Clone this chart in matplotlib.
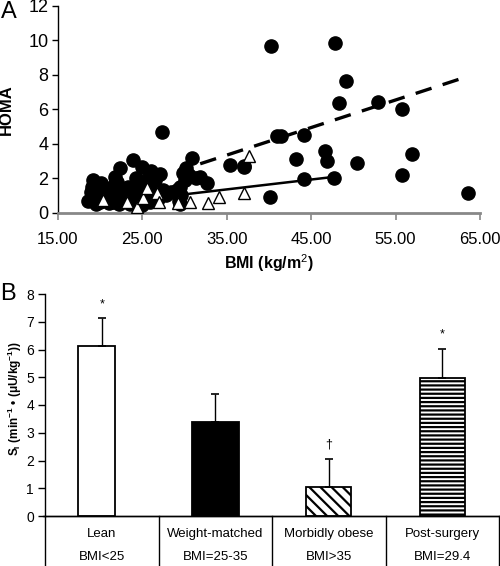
import numpy as np
import matplotlib
matplotlib.use("Agg")
import matplotlib.pyplot as plt

plt.rcParams['font.family'] = ['Liberation Sans', 'DejaVu Sans']
plt.rcParams['mathtext.fontset'] = 'custom'
plt.rcParams['mathtext.rm'] = 'Liberation Sans'
plt.rcParams['mathtext.bf'] = 'Liberation Sans:bold'
plt.rcParams['hatch.linewidth'] = 1.6

# ---------------- Panel A data ----------------
obese_bmi = [18.6, 18.9, 19.2, 19.0, 19.5, 19.8, 20.3, 20.0, 20.8, 21.2, 21.5, 21.8,
             22.3, 22.0, 22.5, 22.8, 23.3, 23.6, 23.9, 24.2, 24.6, 24.9, 25.0, 25.3, 24.8,
             25.8, 26.2, 26.5, 27.1, 27.4, 26.8, 27.37,
             29.2, 29.5, 29.8, 30.2, 30.9, 30.5, 31.8, 32.6, 29.3, 30.0, 29.1, 31.4,
             19.3, 20.5, 21.0, 21.8, 22.2, 23.0, 23.5, 24.0, 25.5, 25.9, 26.0, 27.8,
             28.4, 29.6, 29.4, 21.6, 20.1,
             35.4, 37.0, 37.06,
             40.23, 47.78, 49.08, 48.3, 52.88, 55.77, 40.94, 41.42, 44.1, 46.6, 46.87,
             43.23, 50.43, 56.95, 55.8, 44.2, 47.74, 40.15, 63.6]
obese_homa = [0.7, 1.2, 1.9, 1.5, 0.5, 1.0, 1.4, 0.6, 0.9, 1.3, 0.6, 2.1,
              2.6, 1.8, 1.2, 0.7, 1.5, 1.0, 3.05, 2.0, 1.3, 2.65, 0.45, 1.8, 0.9,
              2.1, 1.5, 1.9, 2.25, 1.3, 0.8, 4.67,
              1.1, 1.5, 2.3, 2.6, 3.15, 2.2, 2.05, 1.7, 0.7, 1.9, 1.3, 2.0,
              0.9, 1.1, 0.55, 1.0, 0.5, 1.1, 0.5, 1.5, 1.2, 0.6, 2.4, 1.0,
              1.2, 1.0, 0.5, 1.6, 1.7,
              2.75, 2.7, 2.64,
              9.70, 9.84, 7.63, 6.35, 6.43, 6.04, 4.45, 4.45, 4.53, 3.6, 3.0,
              3.1, 2.87, 3.39, 2.21, 1.97, 2.0, 0.91, 1.16]

lean_bmi = [20.37, 23.15, 24.33, 25.1, 25.52, 26.7, 27.02, 29.27, 30.66, 32.83, 34.02,
            37.0, 37.6]
lean_homa = [0.74, 0.64, 0.35, 0.84, 1.42, 1.13, 0.64, 0.55, 0.62, 0.55, 0.93,
             1.13, 3.3]

fit_dashed_x = [31.85, 63.6]
fit_dashed_y = [2.84, 7.92]
fit_solid_x = [25.0, 47.7]
fit_solid_y = [0.78, 2.08]

xticks_a = [15, 25, 35, 45, 55, 65]
yticks_a = [0, 2, 4, 6, 8, 10, 12]

# ---------------- Panel B data ----------------
groups = ['Lean', 'Weight-matched', 'Morbidly obese', 'Post-surgery']
bmi_labels = ['BMI<25', 'BMI=25-35', 'BMI>35', 'BMI=29.4']
si_mean = [6.13, 3.40, 1.06, 4.97]
si_se = [0.99, 1.00, 0.99, 1.04]
sig_marks = ['*', '', '\u2020', '*']

fig = plt.figure(figsize=(5.0, 5.66), dpi=100)

# ---------- Panel A ----------
axA = fig.add_axes([58/500, 1-212.7/566, (480-58)/500, (212.7-6)/566])
axA.plot(fit_dashed_x, fit_dashed_y, color='black', lw=2.4, dashes=(5, 3.5), zorder=2)
axA.plot(fit_solid_x, fit_solid_y, color='black', lw=1.8, zorder=2)
axA.plot(obese_bmi, obese_homa, 'o', ms=9.5, color='black', mec='black', zorder=3)
axA.plot(lean_bmi, lean_homa, '^', ms=8.5, mfc='white', mec='black', mew=1.0, zorder=4)
axA.set_xlim(15, 65)
axA.set_ylim(0, 12)
axA.set_xticks(xticks_a)
axA.set_xticklabels([f'{v:.2f}' for v in xticks_a], fontsize=12)
axA.set_yticks(yticks_a)
axA.set_yticklabels([str(v) for v in yticks_a], fontsize=13)
for s in ['top', 'right']:
    axA.spines[s].set_visible(False)
axA.spines['bottom'].set_color('#888888')
axA.spines['bottom'].set_linewidth(2)
axA.spines['left'].set_linewidth(1)
axA.tick_params(axis='x', direction='out', length=5, width=1.2, color='#888888', pad=9)
axA.tick_params(axis='y', direction='out', length=4, width=1, pad=3)
axA.set_ylabel('HOMA', fontsize=12, fontweight='bold')
axA.set_xlabel('BMI (kg/m$^2$)', fontsize=11.5, fontweight='bold')
axA.xaxis.set_label_coords(0.5, -0.245)
axA.yaxis.set_label_coords(-0.105, 0.5)
fig.text(0.002, 1-12/566, 'A', fontsize=17, va='center', ha='left')
# xlabel center at ~263 px
axA.xaxis.set_label_coords(0.5, -(263-212.7)/(212.7-6))
axA.xaxis.label.set_va('center')

# ---------- Panel B ----------
axB = fig.add_axes([45/500, 1-516/566, (499-45)/500, (516-294)/566])
x = np.arange(len(groups))
bar_shift = np.array([-0.045, 0, 0, 0])
bar_w = [0.323, 0.41, 0.40, 0.40]
faces = ['white', 'black', 'white', 'white']
hatches = [None, None, '\\\\\\', '----']
bars = axB.bar(x + bar_shift, si_mean, width=bar_w, color=faces,
               edgecolor='black', linewidth=1.3, zorder=2)
for b, h in zip(bars, hatches):
    if h:
        b.set_hatch(h)
axB.errorbar(x, si_mean, yerr=[np.zeros(len(si_mean)), si_se], fmt='none',
             ecolor='black', elinewidth=1, capsize=3, capthick=1.2, zorder=3)
for xi, m, e, s in zip(x, si_mean, si_se, sig_marks):
    if s:
        axB.annotate(s, (xi, m + e), xytext=(0, 6), textcoords='offset points',
                     ha='center', va='bottom', fontsize=9)
axB.set_xlim(-0.5, 3.5)
axB.set_ylim(0, 8)
axB.set_yticks(range(0, 9))
axB.tick_params(axis='y', direction='out', length=5, width=1, labelsize=10, pad=3)
axB.set_xticks([])
for s in ['top', 'right']:
    axB.spines[s].set_visible(False)
axB.spines['bottom'].set_linewidth(1)
axB.spines['left'].set_linewidth(1)
tr = axB.get_xaxis_transform()
axB.plot([-0.52, 3.5], [0, 0], color='black', lw=1, transform=tr, clip_on=False)
for bx in [-0.5, 0.5, 1.5, 2.5, 3.5]:
    axB.plot([bx, bx], [0, -0.4], color='black', lw=1, transform=tr, clip_on=False)
for xi, g, bl in zip(x, groups, bmi_labels):
    axB.text(xi, -0.081, g, transform=tr, ha='center', va='center', fontsize=9.5)
    axB.text(xi, -0.185, bl, transform=tr, ha='center', va='center', fontsize=9.5)
fig.text(15/500, 1-399/566,
         r'$\mathbf{S_I}$' + ' ' + r'$\mathbf{(min^{-1}}$' + ' \u2022 ' +
         r'$\mathbf{(\mu U/kg^{-1}))}$',
         rotation=90, ha='center', va='center', fontsize=8.5, fontweight='bold')
fig.text(0.0, 1-294/566, 'B', fontsize=17, va='center', ha='left')

fig.savefig('out.png', dpi=100)
